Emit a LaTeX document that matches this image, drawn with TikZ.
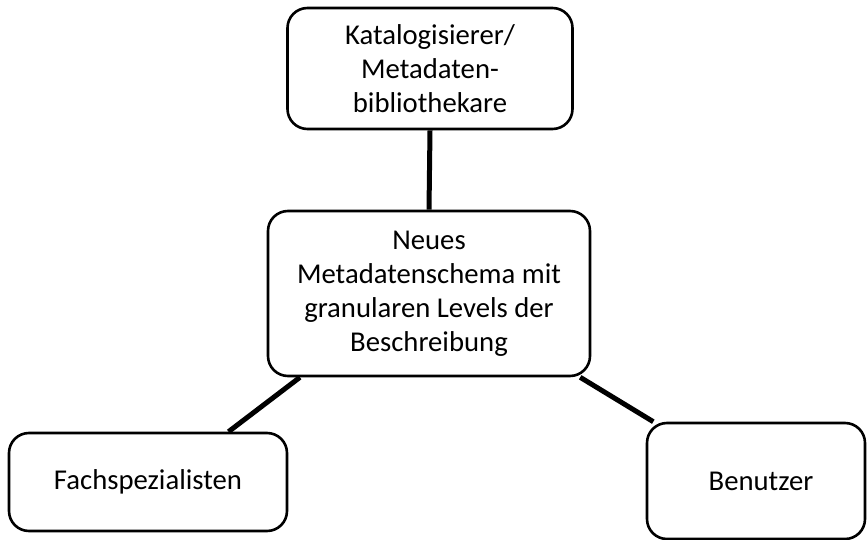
\documentclass[tikz,border=0pt]{standalone}
\usepackage{fontspec}
\setmainfont{Carlito}
\tikzset{
  box/.style={draw, rounded corners=20pt, line width=2.6pt, align=center,
    inner sep=0pt, font=\fontsize{28.7}{34}\selectfont},
  link/.style={line width=5pt}
}
\begin{document}
\begin{tikzpicture}[x=1pt, y=-1pt]
  \useasboundingbox (0,0) rectangle (867,540);
  \node[box, minimum width=285pt, minimum height=121pt] (kat) at (430, 68.5)
    {Katalogisierer/\\Metadaten-\\bibliothekare};
  \node[box, minimum width=322pt, minimum height=165pt] (neu) at (429, 293.5)
    {Neues\\Metadatenschema mit\\granularen Levels der\\Beschreibung};
  \node[box, minimum width=278pt, minimum height=98pt] (fach) at (148, 482)
    {Fachspezialisten};
  \node[box, minimum width=218pt, minimum height=116pt] (ben) at (756, 481)
    {\hspace*{10pt}Benutzer};
  \draw[link] (kat.south) -- (neu.north);
  \draw[link] (neu.213.6) -- (fach.32.8);
  \draw[link] (neu.-29) -- (ben.150.6);
\end{tikzpicture}
\end{document}
